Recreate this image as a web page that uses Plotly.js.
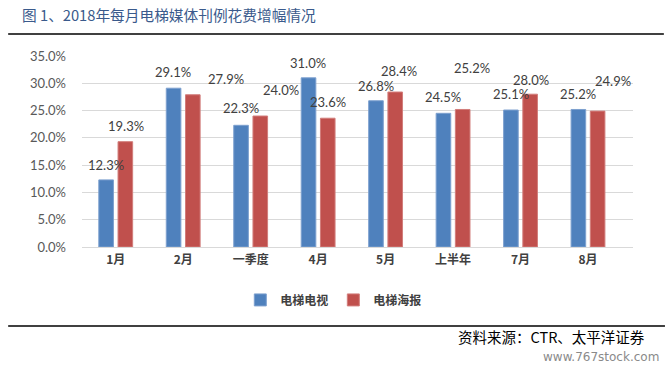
<!DOCTYPE html>
<html>
<head>
<meta charset="utf-8">
<script src="https://cdn.plot.ly/plotly-3.0.1.min.js"></script>
<style>html,body{margin:0;padding:0;background:#fff;}#chart{width:671px;height:372px;}</style>
</head>
<body>
<div id="chart"></div>
<script>
const categories = ['1月','2月','一季度','4月','5月','上半年','7月','8月'];
const tvValues = [12.3,29.1,22.3,31.0,26.8,24.5,25.1,25.2];
const posterValues = [19.3,27.9,24.0,23.6,28.4,25.2,28.0,24.9];
const seriesNames = ['电梯电视','电梯海报'];
const yTicks = [0,5,10,15,20,25,30,35];

// label nudges (pixels) as placed in the reference
const tvLabelDx = [-10,-10,-10,-10,-10,-10,-10,-10];
const tvLabelDy = [15,16,17,15,15,16,16,15];
const posterLabelDx = [10,43,30,10,13,19,10,25];
const posterLabelDy = [16,16,26,16,21,41,14,30];

const blue = '#4F81BD', red = '#C0504D';
const labelFont = {family:'Lato, "Noto Sans CJK SC", sans-serif', size:13, color:'#404040'};

const traces = [
  {type:'bar', name:seriesNames[0], x:categories, y:tvValues,
   marker:{color:blue, line:{color:'#7DA0CF', width:1}}, hoverinfo:'none'},
  {type:'bar', name:seriesNames[1], x:categories, y:posterValues,
   marker:{color:red, line:{color:'#D27D7B', width:1}}, hoverinfo:'none'}
];

const annotations = [];
categories.forEach((c,i)=>{
  annotations.push({x:c, y:tvValues[i], xref:'x', yref:'y', text:tvValues[i].toFixed(1)+'%',
    showarrow:false, xshift:tvLabelDx[i], yshift:tvLabelDy[i], yanchor:'middle', xanchor:'center', font:labelFont});
  annotations.push({x:c, y:posterValues[i], xref:'x', yref:'y', text:posterValues[i].toFixed(1)+'%',
    showarrow:false, xshift:posterLabelDx[i], yshift:posterLabelDy[i], yanchor:'middle', xanchor:'center', font:labelFont});
});
annotations.push({xref:'paper', yref:'paper', x:-0.1125, y:1.215, xanchor:'left', yanchor:'middle',
  text:'图 1、2018年每月电梯媒体刊例花费增幅情况', showarrow:false,
  font:{family:'"Noto Sans CJK SC", sans-serif', size:14.7, color:'#3A5A8C'}});
annotations.push({xref:'paper', yref:'paper', x:1.0254, y:-0.466, xanchor:'right', yanchor:'middle',
  text:'资料来源：CTR、太平洋证券', showarrow:false,
  font:{family:'"Noto Sans CJK SC", serif', size:14.5, color:'#000'}});
annotations.push({xref:'paper', yref:'paper', x:1.051, y:-0.576, xanchor:'right', yanchor:'middle',
  text:'www.767stock.com', showarrow:false,
  font:{family:'"DejaVu Sans", sans-serif', size:12, color:'#8a8a8a'}});

const layout = {
  width:671, height:372,
  margin:{l:82, r:38, t:56, b:125},
  paper_bgcolor:'#fff', plot_bgcolor:'#fff',
  barmode:'group', bargap:0.43, bargroupgap:0.24,
  showlegend:true,
  legend:{orientation:'h', x:0.457, y:-0.277, xanchor:'center', yanchor:'middle',
    font:{family:'"Noto Sans CJK SC", sans-serif', size:12, color:'#404040', weight:'bold'},
    itemwidth:30, traceorder:'normal'},
  xaxis:{type:'category', showgrid:false, zeroline:false, showline:false, ticks:'',
    tickfont:{family:'"Noto Sans CJK SC", sans-serif', size:12, color:'#404040', weight:'bold'},
    ticklabelstandoff:4},
  yaxis:{range:[0,35], tickvals:yTicks, ticktext:yTicks.map(v=>v.toFixed(1)+'%'),
    showgrid:true, gridcolor:'#D9D9D9', gridwidth:1, zeroline:true, zerolinecolor:'#D9D9D9', zerolinewidth:1,
    showline:false, ticks:'', tickfont:{family:'Lato, sans-serif', size:13, color:'#595959'}, ticklabelstandoff:15},
  annotations:annotations,
  shapes:[
    {type:'line', xref:'paper', yref:'paper', x0:-0.134, x1:1.056, y0:1.115, y1:1.115, line:{color:'#000', width:1.5}},
    {type:'line', xref:'paper', yref:'paper', x0:-0.134, x1:1.058, y0:-0.414, y1:-0.414, line:{color:'#000', width:1.5}}
  ]
};

Plotly.newPlot('chart', traces, layout, {staticPlot:true, displayModeBar:false});
</script>
</body>
</html>
